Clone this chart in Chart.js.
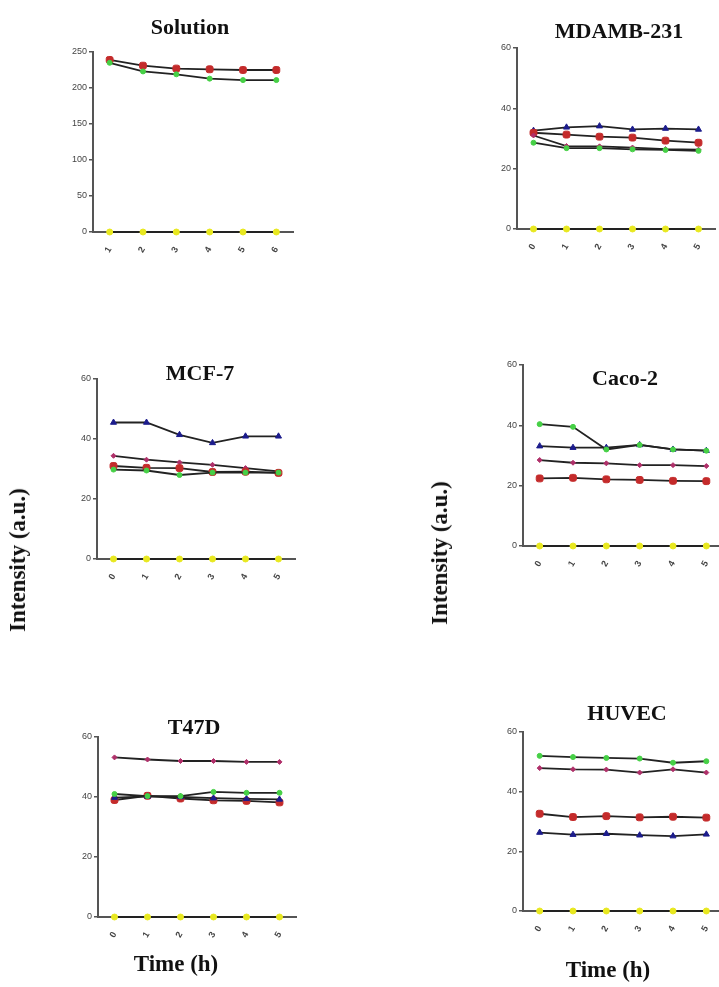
<!DOCTYPE html>
<html lang="en">
<head>
<meta charset="UTF-8">
<title>Intensity vs time</title>
<script src="https://cdn.jsdelivr.net/npm/chart.js@4.4.1/dist/chart.umd.min.js"></script>
<style>
    body { margin: 0; width: 719px; height: 987px; overflow: hidden; background: #fff; position: relative; }
    canvas.panel { position: absolute; left: 0; top: 0; }
    .txt { position: absolute; font-family: "Liberation Serif", "Times New Roman", serif; font-weight: bold; color: #111; white-space: nowrap; transform: translate(-50%, -50%); }
    .ttl { font-size: 22px; }
    .ylab { font-size: 23px; transform: translate(-50%, -50%) rotate(-90deg); }
    .xlab { font-size: 23px; }
</style>
</head>
<body>

<script>
    // x categories
    const hoursSolution = ['1', '2', '3', '4', '5', '6'];
    const hours = ['0', '1', '2', '3', '4', '5'];
    const zeros = [0, 0, 0, 0, 0, 0];

    // Solution
    const solRed = [239, 231, 227, 226, 225, 225];
    const solGreen = [235, 223, 219, 213, 211, 211];

    // MDAMB-231
    const mdaBlue = [32.6, 33.7, 34.1, 33.0, 33.3, 33.0];
    const mdaRed = [31.9, 31.3, 30.6, 30.3, 29.3, 28.6];
    const mdaPink = [31.0, 27.5, 27.4, 27.0, 26.5, 26.3];
    const mdaGreen = [28.6, 26.8, 26.8, 26.4, 26.2, 25.9];

    // MCF-7
    const mcfBlue = [45.5, 45.5, 41.4, 38.7, 40.9, 40.9];
    const mcfPink = [34.4, 33.1, 32.2, 31.4, 30.3, 29.2];
    const mcfRed = [31.0, 30.4, 30.3, 29.0, 29.1, 28.7];
    const mcfGreen = [29.8, 29.5, 28.0, 28.8, 28.8, 28.8];

    // Caco-2
    const cacoGreen = [40.4, 39.5, 32.0, 33.5, 32.0, 31.6];
    const cacoBlue = [33.1, 32.6, 32.6, 33.5, 32.0, 31.6];
    const cacoPink = [28.5, 27.6, 27.4, 26.8, 26.8, 26.5];
    const cacoRed = [22.4, 22.6, 22.1, 21.9, 21.6, 21.5];

    // T47D
    const t47Pink = [53.2, 52.5, 52.0, 52.0, 51.7, 51.7];
    const t47Green = [41.0, 40.3, 40.3, 41.7, 41.4, 41.4];
    const t47Blue = [39.8, 40.2, 40.0, 39.6, 39.4, 39.2];
    const t47Red = [39.0, 40.4, 39.5, 38.9, 38.7, 38.2];

    // HUVEC
    const huvGreen = [52.0, 51.6, 51.3, 51.1, 49.7, 50.2];
    const huvPink = [47.9, 47.5, 47.4, 46.4, 47.5, 46.4];
    const huvRed = [32.6, 31.5, 31.8, 31.4, 31.6, 31.3];
    const huvBlue = [26.3, 25.6, 25.9, 25.4, 25.1, 25.7];

    const markers = {
        red: { color: '#c42b2b', shape: 'rectRounded', r: 4 },
        green: { color: '#46d046', shape: 'circle', r: 2.5 },
        blue: { color: '#1c1c8c', shape: 'triangle', r: 3.5 },
        pink: { color: '#b0306a', shape: 'rectRot', r: 2.5 },
        yellow: { color: '#e8e820', shape: 'circle', r: 3 }
    };

    // panel frame: y axis x, top of y range, bottom (0), right end of x axis
    const panels = [
        { title: 'Solution', tx: 190, ty: 27, axisX: 93, top: 52, bottom: 232, right: 293, max: 250, step: 50, labels: hoursSolution,
          series: [['green', solGreen], ['red', solRed], ['yellow', zeros]] },
        { title: 'MDAMB-231', tx: 619, ty: 31, axisX: 517, top: 48, bottom: 229, right: 715, max: 60, step: 20, labels: hours,
          series: [['green', mdaGreen], ['pink', mdaPink], ['red', mdaRed], ['blue', mdaBlue], ['yellow', zeros]] },
        { title: 'MCF-7', tx: 200, ty: 373, axisX: 97, top: 379, bottom: 559, right: 295, max: 60, step: 20, labels: hours,
          series: [['green', mcfGreen], ['red', mcfRed], ['pink', mcfPink], ['blue', mcfBlue], ['yellow', zeros]] },
        { title: 'Caco-2', tx: 625, ty: 378, axisX: 523, top: 365, bottom: 546, right: 723, max: 60, step: 20, labels: hours,
          series: [['red', cacoRed], ['pink', cacoPink], ['green', cacoGreen], ['blue', cacoBlue], ['yellow', zeros]] },
        { title: 'T47D', tx: 194, ty: 727, axisX: 98, top: 737, bottom: 917, right: 296, max: 60, step: 20, labels: hours,
          series: [['pink', t47Pink], ['green', t47Green], ['blue', t47Blue], ['red', t47Red], ['yellow', zeros]] },
        { title: 'HUVEC', tx: 627, ty: 713, axisX: 523, top: 732, bottom: 911, right: 723, max: 60, step: 20, labels: hours,
          series: [['blue', huvBlue], ['red', huvRed], ['pink', huvPink], ['green', huvGreen], ['yellow', zeros]] }
    ];

    const W = 740, H = 987, Y_W = 30, X_H = 30;

    function addText(cls, text, x, y) {
        const d = document.createElement('div');
        d.className = 'txt ' + cls;
        d.textContent = text;
        d.style.left = x + 'px';
        d.style.top = y + 'px';
        document.body.appendChild(d);
    }

    panels.forEach(p => {
        const cv = document.createElement('canvas');
        cv.className = 'panel';
        cv.width = W;
        cv.height = H;
        document.body.appendChild(cv);

        const datasets = p.series.map(([key, values]) => {
            const m = markers[key];
            return {
                data: values,
                borderColor: '#222',
                borderWidth: 1.8,
                tension: 0,
                fill: false,
                clip: false,
                pointStyle: m.shape,
                pointRadius: m.r,
                pointBackgroundColor: m.color,
                pointBorderColor: m.color,
                pointBorderWidth: 1
            };
        });

        new Chart(cv, {
            type: 'line',
            data: { labels: p.labels, datasets: datasets },
            options: {
                responsive: false,
                animation: false,
                events: [],
                layout: {
                    padding: { left: p.axisX - Y_W, top: p.top, right: W - p.right, bottom: H - p.bottom - X_H }
                },
                plugins: { legend: { display: false }, tooltip: { enabled: false } },
                scales: {
                    x: {
                        offset: true,
                        afterFit: s => { s.height = X_H; },
                        grid: { display: false },
                        border: { display: true, color: '#555', width: 2 },
                        ticks: { minRotation: 60, maxRotation: 60, autoSkip: false, padding: 5, color: '#444',
                                 font: { family: 'Liberation Sans', size: 9, weight: 'bold' } }
                    },
                    y: {
                        min: 0, max: p.max,
                        afterFit: s => { s.width = Y_W; },
                        grid: { drawOnChartArea: false, drawTicks: true, tickLength: 4, color: '#555', lineWidth: 1.5 },
                        border: { display: true, color: '#555', width: 2 },
                        ticks: { stepSize: p.step, padding: 2, color: '#444',
                                 font: { family: 'Liberation Sans', size: 9 } }
                    }
                }
            }
        });

        addText('ttl', p.title, p.tx, p.ty);
    });

    addText('ylab', 'Intensity (a.u.)', 18, 560);
    addText('ylab', 'Intensity (a.u.)', 440, 553);
    addText('xlab', 'Time (h)', 176, 964);
    addText('xlab', 'Time (h)', 608, 970);
</script>
</body>
</html>
